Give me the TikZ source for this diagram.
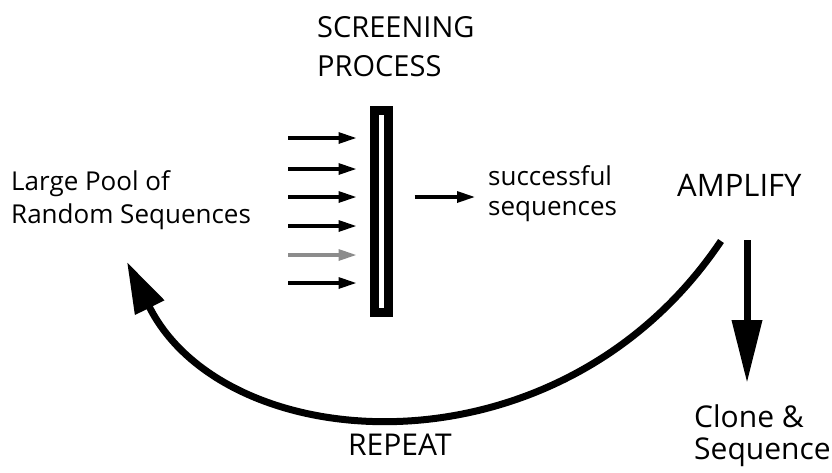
\documentclass[tikz,border=0pt]{standalone}
\usepackage{fontspec}
\setmainfont{Open Sans}
\usetikzlibrary{arrows.meta}
\begin{document}
\begin{tikzpicture}[x=1pt,y=-1pt,
  big/.style={font=\fontsize{30}{39}\selectfont, inner sep=0pt, anchor=base west, align=left},
  small/.style={font=\fontsize{26}{33}\selectfont, inner sep=0pt, anchor=base west, align=left},
  inarrow/.style={line width=3.2pt, -{Triangle[length=18pt,width=11pt]}},
  bigarrow/.style={line width=7pt},
  screen/.style={draw, line width=9pt, minimum width=14pt, minimum height=202pt, inner sep=0pt}]
\useasboundingbox (0,0) rectangle (832,472);
% labels
\node[big, font=\fontsize{29}{39}\selectfont] (screening) at (317,76) {SCREENING\\PROCESS};
\node[small] (pool) at (11,223) {Large Pool of\\Random Sequences};
\node[small, font=\fontsize{26}{30}\selectfont] (succ) at (488,215) {successful\\sequences};
\node[big, font=\fontsize{31}{39}\selectfont] (amp) at (677,196) {AMPLIFY};
\node[big] (repeat) at (348,455) {REPEAT};
\node[big, font=\fontsize{30}{32}\selectfont] (clone) at (694,459) {Clone \&\\Sequence};
% screen
\node[screen] (bar) at (381,211) {};
% input arrows
\foreach \y/\c [count=\i] in {138/black,169/black,197/black,226/black,255/black!45,283/black}{
  \coordinate (in\i) at (288,\y);
  \draw[inarrow, draw=\c, fill=\c] (in\i) -- ([xshift=-13pt]bar.west |- in\i);
}
% output arrow
\draw[inarrow] ([xshift=22pt]bar.east |- in3) -- ([xshift=-13pt]succ.west |- in3);
% repeat arc
\coordinate (arcstart) at (721,241);
\coordinate (arctip) at (127,262);
\draw[bigarrow, -{Triangle[length=51pt,width=31pt]}] (arcstart) .. controls (559,482) and (225,459) .. (arctip);
% clone arrow
\coordinate (downstart) at (747,240);
\draw[bigarrow, -{Triangle[length=63pt,width=29pt]}] (downstart) -- (747,383);
\end{tikzpicture}
\end{document}
